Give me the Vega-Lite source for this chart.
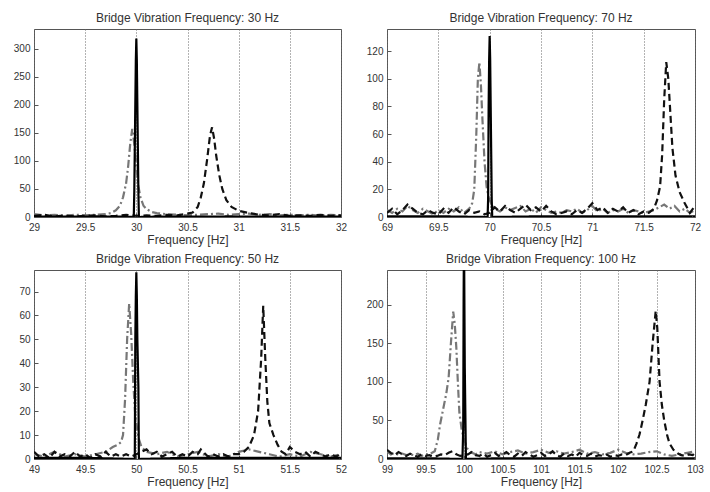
{
  "$schema": "https://vega.github.io/schema/vega-lite/v6.json",
  "background": "white",
  "padding": {"left": 12, "top": 11, "right": 5, "bottom": 5},
  "bounds": "flush",
  "columns": 2,
  "spacing": {"row": 53, "column": 46},
  "data": {"values": [
    {"p":"A","s":"G","x":29.0,"y":5},{"p":"A","s":"G","x":29.1,"y":3},{"p":"A","s":"G","x":29.2,"y":4},{"p":"A","s":"G","x":29.3,"y":2},{"p":"A","s":"G","x":29.4,"y":4},{"p":"A","s":"G","x":29.5,"y":3},{"p":"A","s":"G","x":29.6,"y":4},{"p":"A","s":"G","x":29.7,"y":5},{"p":"A","s":"G","x":29.75,"y":7},{"p":"A","s":"G","x":29.8,"y":12},{"p":"A","s":"G","x":29.84,"y":20},{"p":"A","s":"G","x":29.87,"y":35},{"p":"A","s":"G","x":29.9,"y":60},{"p":"A","s":"G","x":29.92,"y":90},{"p":"A","s":"G","x":29.94,"y":130},{"p":"A","s":"G","x":29.96,"y":157},{"p":"A","s":"G","x":29.98,"y":130},{"p":"A","s":"G","x":30.0,"y":90},{"p":"A","s":"G","x":30.02,"y":55},{"p":"A","s":"G","x":30.04,"y":35},{"p":"A","s":"G","x":30.07,"y":20},{"p":"A","s":"G","x":30.1,"y":14},{"p":"A","s":"G","x":30.15,"y":9},{"p":"A","s":"G","x":30.2,"y":7},{"p":"A","s":"G","x":30.3,"y":5},{"p":"A","s":"G","x":30.4,"y":4},{"p":"A","s":"G","x":30.5,"y":3},{"p":"A","s":"G","x":30.6,"y":4},{"p":"A","s":"G","x":30.7,"y":5},{"p":"A","s":"G","x":30.8,"y":6},{"p":"A","s":"G","x":30.9,"y":4},{"p":"A","s":"G","x":31.0,"y":5},{"p":"A","s":"G","x":31.1,"y":6},{"p":"A","s":"G","x":31.2,"y":4},{"p":"A","s":"G","x":31.3,"y":5},{"p":"A","s":"G","x":31.4,"y":3},{"p":"A","s":"G","x":31.5,"y":4},{"p":"A","s":"G","x":31.6,"y":3},{"p":"A","s":"G","x":31.7,"y":4},{"p":"A","s":"G","x":31.8,"y":2},{"p":"A","s":"G","x":31.9,"y":4},{"p":"A","s":"G","x":32.0,"y":3},
    {"p":"A","s":"D","x":29.0,"y":2},{"p":"A","s":"D","x":29.1,"y":4},{"p":"A","s":"D","x":29.2,"y":1},{"p":"A","s":"D","x":29.3,"y":3},{"p":"A","s":"D","x":29.4,"y":1},{"p":"A","s":"D","x":29.5,"y":2},{"p":"A","s":"D","x":29.6,"y":3},{"p":"A","s":"D","x":29.7,"y":1},{"p":"A","s":"D","x":29.8,"y":2},{"p":"A","s":"D","x":29.9,"y":4},{"p":"A","s":"D","x":30.0,"y":2},{"p":"A","s":"D","x":30.1,"y":3},{"p":"A","s":"D","x":30.2,"y":2},{"p":"A","s":"D","x":30.3,"y":4},{"p":"A","s":"D","x":30.4,"y":3},{"p":"A","s":"D","x":30.5,"y":6},{"p":"A","s":"D","x":30.55,"y":8},{"p":"A","s":"D","x":30.6,"y":18},{"p":"A","s":"D","x":30.63,"y":35},{"p":"A","s":"D","x":30.66,"y":60},{"p":"A","s":"D","x":30.69,"y":100},{"p":"A","s":"D","x":30.72,"y":145},{"p":"A","s":"D","x":30.74,"y":160},{"p":"A","s":"D","x":30.76,"y":140},{"p":"A","s":"D","x":30.78,"y":110},{"p":"A","s":"D","x":30.81,"y":75},{"p":"A","s":"D","x":30.84,"y":50},{"p":"A","s":"D","x":30.88,"y":30},{"p":"A","s":"D","x":30.93,"y":18},{"p":"A","s":"D","x":31.0,"y":11},{"p":"A","s":"D","x":31.1,"y":7},{"p":"A","s":"D","x":31.2,"y":4},{"p":"A","s":"D","x":31.3,"y":3},{"p":"A","s":"D","x":31.4,"y":5},{"p":"A","s":"D","x":31.5,"y":2},{"p":"A","s":"D","x":31.6,"y":3},{"p":"A","s":"D","x":31.7,"y":2},{"p":"A","s":"D","x":31.8,"y":4},{"p":"A","s":"D","x":31.9,"y":2},{"p":"A","s":"D","x":32.0,"y":3},
    {"p":"A","s":"S","x":29.0,"y":1},{"p":"A","s":"S","x":29.3,"y":0.5},{"p":"A","s":"S","x":29.6,"y":1},{"p":"A","s":"S","x":29.9,"y":0.5},{"p":"A","s":"S","x":29.975,"y":0},{"p":"A","s":"S","x":29.98,"y":45},{"p":"A","s":"S","x":29.99,"y":200},{"p":"A","s":"S","x":29.995,"y":278},{"p":"A","s":"S","x":30.0,"y":318},{"p":"A","s":"S","x":30.005,"y":278},{"p":"A","s":"S","x":30.01,"y":200},{"p":"A","s":"S","x":30.02,"y":45},{"p":"A","s":"S","x":30.025,"y":0},{"p":"A","s":"S","x":30.3,"y":1},{"p":"A","s":"S","x":30.6,"y":0.5},{"p":"A","s":"S","x":30.9,"y":1},{"p":"A","s":"S","x":31.2,"y":0.5},{"p":"A","s":"S","x":31.5,"y":1},{"p":"A","s":"S","x":31.8,"y":0.5},{"p":"A","s":"S","x":32.0,"y":1},

    {"p":"B","s":"G","x":69.0,"y":5},{"p":"B","s":"G","x":69.05,"y":3},{"p":"B","s":"G","x":69.1,"y":6},{"p":"B","s":"G","x":69.15,"y":4},{"p":"B","s":"G","x":69.2,"y":8},{"p":"B","s":"G","x":69.25,"y":5},{"p":"B","s":"G","x":69.3,"y":3},{"p":"B","s":"G","x":69.35,"y":6},{"p":"B","s":"G","x":69.4,"y":4},{"p":"B","s":"G","x":69.45,"y":2},{"p":"B","s":"G","x":69.5,"y":5},{"p":"B","s":"G","x":69.55,"y":3},{"p":"B","s":"G","x":69.6,"y":6},{"p":"B","s":"G","x":69.65,"y":4},{"p":"B","s":"G","x":69.7,"y":7},{"p":"B","s":"G","x":69.75,"y":3},{"p":"B","s":"G","x":69.8,"y":6},{"p":"B","s":"G","x":69.83,"y":10},{"p":"B","s":"G","x":69.85,"y":20},{"p":"B","s":"G","x":69.87,"y":60},{"p":"B","s":"G","x":69.885,"y":100},{"p":"B","s":"G","x":69.9,"y":112},{"p":"B","s":"G","x":69.915,"y":95},{"p":"B","s":"G","x":69.93,"y":70},{"p":"B","s":"G","x":69.95,"y":40},{"p":"B","s":"G","x":69.97,"y":22},{"p":"B","s":"G","x":69.99,"y":14},{"p":"B","s":"G","x":70.02,"y":9},{"p":"B","s":"G","x":70.05,"y":6},{"p":"B","s":"G","x":70.1,"y":4},{"p":"B","s":"G","x":70.15,"y":7},{"p":"B","s":"G","x":70.2,"y":5},{"p":"B","s":"G","x":70.3,"y":8},{"p":"B","s":"G","x":70.35,"y":4},{"p":"B","s":"G","x":70.4,"y":6},{"p":"B","s":"G","x":70.45,"y":3},{"p":"B","s":"G","x":70.5,"y":7},{"p":"B","s":"G","x":70.55,"y":5},{"p":"B","s":"G","x":70.6,"y":3},{"p":"B","s":"G","x":70.65,"y":4},{"p":"B","s":"G","x":70.7,"y":3},{"p":"B","s":"G","x":70.75,"y":5},{"p":"B","s":"G","x":70.8,"y":4},{"p":"B","s":"G","x":70.85,"y":6},{"p":"B","s":"G","x":70.9,"y":3},{"p":"B","s":"G","x":70.95,"y":5},{"p":"B","s":"G","x":71.0,"y":8},{"p":"B","s":"G","x":71.05,"y":4},{"p":"B","s":"G","x":71.1,"y":6},{"p":"B","s":"G","x":71.15,"y":3},{"p":"B","s":"G","x":71.2,"y":5},{"p":"B","s":"G","x":71.25,"y":4},{"p":"B","s":"G","x":71.3,"y":6},{"p":"B","s":"G","x":71.35,"y":3},{"p":"B","s":"G","x":71.4,"y":5},{"p":"B","s":"G","x":71.45,"y":4},{"p":"B","s":"G","x":71.5,"y":3},{"p":"B","s":"G","x":71.55,"y":4},{"p":"B","s":"G","x":71.6,"y":5},{"p":"B","s":"G","x":71.65,"y":7},{"p":"B","s":"G","x":71.7,"y":9},{"p":"B","s":"G","x":71.75,"y":6},{"p":"B","s":"G","x":71.8,"y":8},{"p":"B","s":"G","x":71.85,"y":4},{"p":"B","s":"G","x":71.9,"y":6},{"p":"B","s":"G","x":71.95,"y":3},{"p":"B","s":"G","x":72.0,"y":5},
    {"p":"B","s":"D","x":69.0,"y":3},{"p":"B","s":"D","x":69.05,"y":6},{"p":"B","s":"D","x":69.1,"y":2},{"p":"B","s":"D","x":69.15,"y":5},{"p":"B","s":"D","x":69.2,"y":9},{"p":"B","s":"D","x":69.25,"y":6},{"p":"B","s":"D","x":69.3,"y":3},{"p":"B","s":"D","x":69.35,"y":2},{"p":"B","s":"D","x":69.4,"y":5},{"p":"B","s":"D","x":69.45,"y":3},{"p":"B","s":"D","x":69.5,"y":2},{"p":"B","s":"D","x":69.55,"y":6},{"p":"B","s":"D","x":69.6,"y":3},{"p":"B","s":"D","x":69.65,"y":7},{"p":"B","s":"D","x":69.7,"y":4},{"p":"B","s":"D","x":69.75,"y":2},{"p":"B","s":"D","x":69.8,"y":5},{"p":"B","s":"D","x":69.85,"y":3},{"p":"B","s":"D","x":69.9,"y":4},{"p":"B","s":"D","x":69.95,"y":2},{"p":"B","s":"D","x":70.0,"y":3},{"p":"B","s":"D","x":70.05,"y":7},{"p":"B","s":"D","x":70.1,"y":4},{"p":"B","s":"D","x":70.15,"y":8},{"p":"B","s":"D","x":70.2,"y":5},{"p":"B","s":"D","x":70.25,"y":3},{"p":"B","s":"D","x":70.3,"y":6},{"p":"B","s":"D","x":70.35,"y":9},{"p":"B","s":"D","x":70.4,"y":5},{"p":"B","s":"D","x":70.45,"y":7},{"p":"B","s":"D","x":70.5,"y":4},{"p":"B","s":"D","x":70.55,"y":8},{"p":"B","s":"D","x":70.6,"y":4},{"p":"B","s":"D","x":70.65,"y":2},{"p":"B","s":"D","x":70.7,"y":3},{"p":"B","s":"D","x":70.75,"y":4},{"p":"B","s":"D","x":70.8,"y":2},{"p":"B","s":"D","x":70.85,"y":5},{"p":"B","s":"D","x":70.9,"y":3},{"p":"B","s":"D","x":70.95,"y":6},{"p":"B","s":"D","x":71.0,"y":10},{"p":"B","s":"D","x":71.05,"y":5},{"p":"B","s":"D","x":71.1,"y":7},{"p":"B","s":"D","x":71.15,"y":3},{"p":"B","s":"D","x":71.2,"y":6},{"p":"B","s":"D","x":71.25,"y":4},{"p":"B","s":"D","x":71.3,"y":7},{"p":"B","s":"D","x":71.35,"y":3},{"p":"B","s":"D","x":71.4,"y":5},{"p":"B","s":"D","x":71.45,"y":2},{"p":"B","s":"D","x":71.5,"y":4},{"p":"B","s":"D","x":71.55,"y":3},{"p":"B","s":"D","x":71.6,"y":6},{"p":"B","s":"D","x":71.63,"y":12},{"p":"B","s":"D","x":71.66,"y":22},{"p":"B","s":"D","x":71.68,"y":45},{"p":"B","s":"D","x":71.7,"y":85},{"p":"B","s":"D","x":71.72,"y":112},{"p":"B","s":"D","x":71.74,"y":100},{"p":"B","s":"D","x":71.76,"y":75},{"p":"B","s":"D","x":71.78,"y":50},{"p":"B","s":"D","x":71.81,"y":30},{"p":"B","s":"D","x":71.85,"y":18},{"p":"B","s":"D","x":71.9,"y":10},{"p":"B","s":"D","x":71.95,"y":3},{"p":"B","s":"D","x":72.0,"y":8},
    {"p":"B","s":"S","x":69.0,"y":0.5},{"p":"B","s":"S","x":69.5,"y":0.5},{"p":"B","s":"S","x":69.98,"y":0},{"p":"B","s":"S","x":69.985,"y":13},{"p":"B","s":"S","x":69.99,"y":80},{"p":"B","s":"S","x":69.995,"y":114},{"p":"B","s":"S","x":70.0,"y":131},{"p":"B","s":"S","x":70.005,"y":114},{"p":"B","s":"S","x":70.01,"y":80},{"p":"B","s":"S","x":70.02,"y":13},{"p":"B","s":"S","x":70.025,"y":0},{"p":"B","s":"S","x":70.5,"y":0.5},{"p":"B","s":"S","x":71.0,"y":0.5},{"p":"B","s":"S","x":71.5,"y":0.5},{"p":"B","s":"S","x":72.0,"y":0.5},

    {"p":"C","s":"G","x":49.0,"y":2},{"p":"C","s":"G","x":49.1,"y":1},{"p":"C","s":"G","x":49.2,"y":3},{"p":"C","s":"G","x":49.3,"y":1},{"p":"C","s":"G","x":49.4,"y":2},{"p":"C","s":"G","x":49.5,"y":1},{"p":"C","s":"G","x":49.6,"y":2},{"p":"C","s":"G","x":49.7,"y":3},{"p":"C","s":"G","x":49.77,"y":5},{"p":"C","s":"G","x":49.82,"y":6},{"p":"C","s":"G","x":49.85,"y":7},{"p":"C","s":"G","x":49.87,"y":10},{"p":"C","s":"G","x":49.89,"y":25},{"p":"C","s":"G","x":49.91,"y":50},{"p":"C","s":"G","x":49.93,"y":65},{"p":"C","s":"G","x":49.95,"y":52},{"p":"C","s":"G","x":49.97,"y":32},{"p":"C","s":"G","x":49.99,"y":18},{"p":"C","s":"G","x":50.02,"y":9},{"p":"C","s":"G","x":50.05,"y":5},{"p":"C","s":"G","x":50.1,"y":3},{"p":"C","s":"G","x":50.2,"y":2},{"p":"C","s":"G","x":50.3,"y":3},{"p":"C","s":"G","x":50.4,"y":1},{"p":"C","s":"G","x":50.5,"y":2},{"p":"C","s":"G","x":50.6,"y":3},{"p":"C","s":"G","x":50.7,"y":1},{"p":"C","s":"G","x":50.8,"y":2},{"p":"C","s":"G","x":50.9,"y":1},{"p":"C","s":"G","x":51.0,"y":3},{"p":"C","s":"G","x":51.1,"y":4},{"p":"C","s":"G","x":51.2,"y":3},{"p":"C","s":"G","x":51.3,"y":2},{"p":"C","s":"G","x":51.4,"y":1},{"p":"C","s":"G","x":51.5,"y":2},{"p":"C","s":"G","x":51.6,"y":1},{"p":"C","s":"G","x":51.7,"y":3},{"p":"C","s":"G","x":51.8,"y":2},{"p":"C","s":"G","x":51.9,"y":1},{"p":"C","s":"G","x":52.0,"y":2},
    {"p":"C","s":"D","x":49.0,"y":3},{"p":"C","s":"D","x":49.05,"y":1},{"p":"C","s":"D","x":49.1,"y":2},{"p":"C","s":"D","x":49.15,"y":0.5},{"p":"C","s":"D","x":49.2,"y":3},{"p":"C","s":"D","x":49.25,"y":1},{"p":"C","s":"D","x":49.3,"y":2},{"p":"C","s":"D","x":49.35,"y":1},{"p":"C","s":"D","x":49.4,"y":3},{"p":"C","s":"D","x":49.45,"y":1},{"p":"C","s":"D","x":49.5,"y":2},{"p":"C","s":"D","x":49.55,"y":0.5},{"p":"C","s":"D","x":49.6,"y":2},{"p":"C","s":"D","x":49.65,"y":1},{"p":"C","s":"D","x":49.7,"y":3},{"p":"C","s":"D","x":49.75,"y":1},{"p":"C","s":"D","x":49.8,"y":2},{"p":"C","s":"D","x":49.85,"y":1},{"p":"C","s":"D","x":49.9,"y":2},{"p":"C","s":"D","x":49.95,"y":1},{"p":"C","s":"D","x":50.0,"y":2},{"p":"C","s":"D","x":50.05,"y":3},{"p":"C","s":"D","x":50.1,"y":4},{"p":"C","s":"D","x":50.15,"y":2},{"p":"C","s":"D","x":50.2,"y":3},{"p":"C","s":"D","x":50.25,"y":1},{"p":"C","s":"D","x":50.3,"y":2},{"p":"C","s":"D","x":50.35,"y":3},{"p":"C","s":"D","x":50.4,"y":1},{"p":"C","s":"D","x":50.45,"y":2},{"p":"C","s":"D","x":50.5,"y":1},{"p":"C","s":"D","x":50.55,"y":3},{"p":"C","s":"D","x":50.6,"y":2},{"p":"C","s":"D","x":50.63,"y":4},{"p":"C","s":"D","x":50.7,"y":1},{"p":"C","s":"D","x":50.75,"y":2},{"p":"C","s":"D","x":50.8,"y":1},{"p":"C","s":"D","x":50.85,"y":2},{"p":"C","s":"D","x":50.9,"y":1},{"p":"C","s":"D","x":50.95,"y":2},{"p":"C","s":"D","x":51.0,"y":2},{"p":"C","s":"D","x":51.05,"y":3},{"p":"C","s":"D","x":51.1,"y":5},{"p":"C","s":"D","x":51.15,"y":10},{"p":"C","s":"D","x":51.19,"y":20},{"p":"C","s":"D","x":51.22,"y":42},{"p":"C","s":"D","x":51.24,"y":64},{"p":"C","s":"D","x":51.26,"y":42},{"p":"C","s":"D","x":51.28,"y":24},{"p":"C","s":"D","x":51.3,"y":15},{"p":"C","s":"D","x":51.34,"y":10},{"p":"C","s":"D","x":51.38,"y":6},{"p":"C","s":"D","x":51.42,"y":3},{"p":"C","s":"D","x":51.46,"y":2},{"p":"C","s":"D","x":51.5,"y":5},{"p":"C","s":"D","x":51.55,"y":3},{"p":"C","s":"D","x":51.6,"y":2},{"p":"C","s":"D","x":51.65,"y":3},{"p":"C","s":"D","x":51.7,"y":1},{"p":"C","s":"D","x":51.75,"y":3},{"p":"C","s":"D","x":51.8,"y":2},{"p":"C","s":"D","x":51.85,"y":1},{"p":"C","s":"D","x":51.9,"y":2},{"p":"C","s":"D","x":51.95,"y":1},{"p":"C","s":"D","x":52.0,"y":2},
    {"p":"C","s":"S","x":49.0,"y":0.5},{"p":"C","s":"S","x":49.5,"y":0.5},{"p":"C","s":"S","x":49.985,"y":0},{"p":"C","s":"S","x":49.99,"y":50},{"p":"C","s":"S","x":49.995,"y":68},{"p":"C","s":"S","x":50.0,"y":78},{"p":"C","s":"S","x":50.005,"y":68},{"p":"C","s":"S","x":50.01,"y":50},{"p":"C","s":"S","x":50.02,"y":30},{"p":"C","s":"S","x":50.025,"y":0},{"p":"C","s":"S","x":50.5,"y":0.5},{"p":"C","s":"S","x":51.0,"y":0.5},{"p":"C","s":"S","x":51.5,"y":0.5},{"p":"C","s":"S","x":52.0,"y":0.5},

    {"p":"D","s":"G","x":99.0,"y":10},{"p":"D","s":"G","x":99.05,"y":6},{"p":"D","s":"G","x":99.1,"y":8},{"p":"D","s":"G","x":99.15,"y":5},{"p":"D","s":"G","x":99.2,"y":7},{"p":"D","s":"G","x":99.25,"y":5},{"p":"D","s":"G","x":99.3,"y":6},{"p":"D","s":"G","x":99.35,"y":5},{"p":"D","s":"G","x":99.4,"y":7},{"p":"D","s":"G","x":99.45,"y":4},{"p":"D","s":"G","x":99.5,"y":6},{"p":"D","s":"G","x":99.55,"y":6},{"p":"D","s":"G","x":99.62,"y":10},{"p":"D","s":"G","x":99.66,"y":25},{"p":"D","s":"G","x":99.69,"y":45},{"p":"D","s":"G","x":99.73,"y":65},{"p":"D","s":"G","x":99.77,"y":85},{"p":"D","s":"G","x":99.8,"y":105},{"p":"D","s":"G","x":99.83,"y":150},{"p":"D","s":"G","x":99.86,"y":191},{"p":"D","s":"G","x":99.88,"y":175},{"p":"D","s":"G","x":99.9,"y":145},{"p":"D","s":"G","x":99.92,"y":100},{"p":"D","s":"G","x":99.94,"y":60},{"p":"D","s":"G","x":99.97,"y":38},{"p":"D","s":"G","x":100.0,"y":25},{"p":"D","s":"G","x":100.04,"y":14},{"p":"D","s":"G","x":100.08,"y":9},{"p":"D","s":"G","x":100.15,"y":6},{"p":"D","s":"G","x":100.2,"y":9},{"p":"D","s":"G","x":100.3,"y":7},{"p":"D","s":"G","x":100.4,"y":10},{"p":"D","s":"G","x":100.5,"y":6},{"p":"D","s":"G","x":100.6,"y":9},{"p":"D","s":"G","x":100.7,"y":11},{"p":"D","s":"G","x":100.8,"y":7},{"p":"D","s":"G","x":100.9,"y":9},{"p":"D","s":"G","x":101.0,"y":12},{"p":"D","s":"G","x":101.1,"y":8},{"p":"D","s":"G","x":101.2,"y":10},{"p":"D","s":"G","x":101.3,"y":7},{"p":"D","s":"G","x":101.4,"y":9},{"p":"D","s":"G","x":101.5,"y":12},{"p":"D","s":"G","x":101.6,"y":7},{"p":"D","s":"G","x":101.7,"y":9},{"p":"D","s":"G","x":101.8,"y":6},{"p":"D","s":"G","x":101.9,"y":8},{"p":"D","s":"G","x":102.0,"y":12},{"p":"D","s":"G","x":102.1,"y":8},{"p":"D","s":"G","x":102.2,"y":6},{"p":"D","s":"G","x":102.3,"y":7},{"p":"D","s":"G","x":102.4,"y":9},{"p":"D","s":"G","x":102.5,"y":10},{"p":"D","s":"G","x":102.6,"y":6},{"p":"D","s":"G","x":102.7,"y":4},{"p":"D","s":"G","x":102.8,"y":6},{"p":"D","s":"G","x":102.9,"y":8},{"p":"D","s":"G","x":103.0,"y":10},
    {"p":"D","s":"D","x":99.0,"y":12},{"p":"D","s":"D","x":99.05,"y":8},{"p":"D","s":"D","x":99.1,"y":5},{"p":"D","s":"D","x":99.15,"y":9},{"p":"D","s":"D","x":99.2,"y":6},{"p":"D","s":"D","x":99.25,"y":4},{"p":"D","s":"D","x":99.3,"y":7},{"p":"D","s":"D","x":99.35,"y":5},{"p":"D","s":"D","x":99.4,"y":3},{"p":"D","s":"D","x":99.45,"y":6},{"p":"D","s":"D","x":99.5,"y":4},{"p":"D","s":"D","x":99.55,"y":5},{"p":"D","s":"D","x":99.6,"y":3},{"p":"D","s":"D","x":99.65,"y":4},{"p":"D","s":"D","x":99.7,"y":6},{"p":"D","s":"D","x":99.75,"y":5},{"p":"D","s":"D","x":99.8,"y":8},{"p":"D","s":"D","x":99.85,"y":10},{"p":"D","s":"D","x":99.9,"y":6},{"p":"D","s":"D","x":99.95,"y":4},{"p":"D","s":"D","x":100.0,"y":5},{"p":"D","s":"D","x":100.05,"y":6},{"p":"D","s":"D","x":100.1,"y":9},{"p":"D","s":"D","x":100.15,"y":5},{"p":"D","s":"D","x":100.2,"y":4},{"p":"D","s":"D","x":100.25,"y":7},{"p":"D","s":"D","x":100.3,"y":3},{"p":"D","s":"D","x":100.35,"y":5},{"p":"D","s":"D","x":100.4,"y":8},{"p":"D","s":"D","x":100.45,"y":4},{"p":"D","s":"D","x":100.5,"y":6},{"p":"D","s":"D","x":100.55,"y":9},{"p":"D","s":"D","x":100.6,"y":5},{"p":"D","s":"D","x":100.65,"y":3},{"p":"D","s":"D","x":100.7,"y":7},{"p":"D","s":"D","x":100.75,"y":4},{"p":"D","s":"D","x":100.8,"y":9},{"p":"D","s":"D","x":100.85,"y":6},{"p":"D","s":"D","x":100.9,"y":3},{"p":"D","s":"D","x":100.95,"y":5},{"p":"D","s":"D","x":101.0,"y":8},{"p":"D","s":"D","x":101.05,"y":4},{"p":"D","s":"D","x":101.1,"y":6},{"p":"D","s":"D","x":101.15,"y":10},{"p":"D","s":"D","x":101.2,"y":5},{"p":"D","s":"D","x":101.25,"y":3},{"p":"D","s":"D","x":101.3,"y":7},{"p":"D","s":"D","x":101.35,"y":4},{"p":"D","s":"D","x":101.4,"y":6},{"p":"D","s":"D","x":101.45,"y":3},{"p":"D","s":"D","x":101.5,"y":8},{"p":"D","s":"D","x":101.55,"y":5},{"p":"D","s":"D","x":101.6,"y":4},{"p":"D","s":"D","x":101.65,"y":7},{"p":"D","s":"D","x":101.7,"y":3},{"p":"D","s":"D","x":101.75,"y":5},{"p":"D","s":"D","x":101.8,"y":4},{"p":"D","s":"D","x":101.85,"y":6},{"p":"D","s":"D","x":101.9,"y":3},{"p":"D","s":"D","x":101.95,"y":5},{"p":"D","s":"D","x":102.0,"y":4},{"p":"D","s":"D","x":102.05,"y":6},{"p":"D","s":"D","x":102.1,"y":5},{"p":"D","s":"D","x":102.15,"y":8},{"p":"D","s":"D","x":102.2,"y":10},{"p":"D","s":"D","x":102.24,"y":20},{"p":"D","s":"D","x":102.28,"y":32},{"p":"D","s":"D","x":102.32,"y":50},{"p":"D","s":"D","x":102.36,"y":70},{"p":"D","s":"D","x":102.41,"y":100},{"p":"D","s":"D","x":102.45,"y":150},{"p":"D","s":"D","x":102.49,"y":192},{"p":"D","s":"D","x":102.51,"y":170},{"p":"D","s":"D","x":102.54,"y":100},{"p":"D","s":"D","x":102.57,"y":70},{"p":"D","s":"D","x":102.6,"y":50},{"p":"D","s":"D","x":102.64,"y":30},{"p":"D","s":"D","x":102.67,"y":20},{"p":"D","s":"D","x":102.72,"y":12},{"p":"D","s":"D","x":102.78,"y":7},{"p":"D","s":"D","x":102.82,"y":5},{"p":"D","s":"D","x":102.87,"y":4},{"p":"D","s":"D","x":102.92,"y":6},{"p":"D","s":"D","x":102.97,"y":5},{"p":"D","s":"D","x":103.0,"y":8},
    {"p":"D","s":"S","x":99.0,"y":1},{"p":"D","s":"S","x":99.5,"y":1},{"p":"D","s":"S","x":99.98,"y":0},{"p":"D","s":"S","x":99.99,"y":40},{"p":"D","s":"S","x":99.995,"y":205},{"p":"D","s":"S","x":100.0,"y":300},{"p":"D","s":"S","x":100.005,"y":205},{"p":"D","s":"S","x":100.01,"y":120},{"p":"D","s":"S","x":100.02,"y":40},{"p":"D","s":"S","x":100.025,"y":0},{"p":"D","s":"S","x":100.5,"y":1},{"p":"D","s":"S","x":101.0,"y":1},{"p":"D","s":"S","x":101.5,"y":1},{"p":"D","s":"S","x":102.0,"y":1},{"p":"D","s":"S","x":102.5,"y":1},{"p":"D","s":"S","x":103.0,"y":1}
  ]},
  "concat": [
    {
      "title": "Bridge Vibration Frequency: 30 Hz",
      "width": 307, "height": 188,
      "transform": [{"filter": "datum.p == 'A'"}],
      "mark": {"type": "line", "clip": true, "strokeWidth": 2.2},
      "encoding": {
        "x": {"field": "x", "type": "quantitative", "scale": {"domain": [29, 32], "nice": false, "zero": false}, "axis": {"values": [29, 29.5, 30, 30.5, 31, 31.5, 32], "format": "~g", "title": "Frequency [Hz]"}},
        "y": {"field": "y", "type": "quantitative", "scale": {"domain": [0, 335], "nice": false}, "axis": {"values": [0, 50, 100, 150, 200, 250, 300], "title": null}},
        "color": {"field": "s", "type": "nominal", "scale": {"domain": ["G", "D", "S"], "range": ["#777777", "#111111", "#000000"]}, "legend": null},
        "strokeDash": {"field": "s", "type": "nominal", "scale": {"domain": ["G", "D", "S"], "range": [[8, 3, 2, 3], [7, 4], [1, 0]]}, "legend": null}
      }
    },
    {
      "title": "Bridge Vibration Frequency: 70 Hz",
      "width": 308, "height": 188,
      "transform": [{"filter": "datum.p == 'B'"}],
      "mark": {"type": "line", "clip": true, "strokeWidth": 2.2},
      "encoding": {
        "x": {"field": "x", "type": "quantitative", "scale": {"domain": [69, 72], "nice": false, "zero": false}, "axis": {"values": [69, 69.5, 70, 70.5, 71, 71.5, 72], "format": "~g", "title": "Frequency [Hz]"}},
        "y": {"field": "y", "type": "quantitative", "scale": {"domain": [0, 136], "nice": false}, "axis": {"values": [0, 20, 40, 60, 80, 100, 120], "title": null}},
        "color": {"field": "s", "type": "nominal", "scale": {"domain": ["G", "D", "S"], "range": ["#777777", "#111111", "#000000"]}, "legend": null},
        "strokeDash": {"field": "s", "type": "nominal", "scale": {"domain": ["G", "D", "S"], "range": [[8, 3, 2, 3], [7, 4], [1, 0]]}, "legend": null}
      }
    },
    {
      "title": "Bridge Vibration Frequency: 50 Hz",
      "width": 307, "height": 189,
      "transform": [{"filter": "datum.p == 'C'"}],
      "mark": {"type": "line", "clip": true, "strokeWidth": 2.2},
      "encoding": {
        "x": {"field": "x", "type": "quantitative", "scale": {"domain": [49, 52], "nice": false, "zero": false}, "axis": {"values": [49, 49.5, 50, 50.5, 51, 51.5, 52], "format": "~g", "title": "Frequency [Hz]"}},
        "y": {"field": "y", "type": "quantitative", "scale": {"domain": [0, 79], "nice": false}, "axis": {"values": [0, 10, 20, 30, 40, 50, 60, 70], "title": null}},
        "color": {"field": "s", "type": "nominal", "scale": {"domain": ["G", "D", "S"], "range": ["#777777", "#111111", "#000000"]}, "legend": null},
        "strokeDash": {"field": "s", "type": "nominal", "scale": {"domain": ["G", "D", "S"], "range": [[8, 3, 2, 3], [7, 4], [1, 0]]}, "legend": null}
      }
    },
    {
      "title": "Bridge Vibration Frequency: 100 Hz",
      "width": 308, "height": 189,
      "transform": [{"filter": "datum.p == 'D'"}],
      "mark": {"type": "line", "clip": true, "strokeWidth": 2.2},
      "encoding": {
        "x": {"field": "x", "type": "quantitative", "scale": {"domain": [99, 103], "nice": false, "zero": false}, "axis": {"values": [99, 99.5, 100, 100.5, 101, 101.5, 102, 102.5, 103], "format": "~g", "title": "Frequency [Hz]"}},
        "y": {"field": "y", "type": "quantitative", "scale": {"domain": [0, 245], "nice": false}, "axis": {"values": [0, 50, 100, 150, 200], "title": null}},
        "color": {"field": "s", "type": "nominal", "scale": {"domain": ["G", "D", "S"], "range": ["#777777", "#111111", "#000000"]}, "legend": null},
        "strokeDash": {"field": "s", "type": "nominal", "scale": {"domain": ["G", "D", "S"], "range": [[8, 3, 2, 3], [7, 4], [1, 0]]}, "legend": null}
      }
    }
  ],
  "resolve": {"scale": {"x": "independent", "y": "independent", "color": "shared", "strokeDash": "shared"}},
  "config": {
    "view": {"stroke": "#555555", "strokeWidth": 1},
    "axis": {"labelFont": "Liberation Sans", "labelFontSize": 10, "labelColor": "#333333", "titleFont": "Liberation Sans", "titleFontSize": 12, "titleFontWeight": "normal", "titleColor": "#333333", "domain": false, "tickColor": "#555555", "tickSize": -4, "ticks": true},
    "axisX": {"grid": true, "gridDash": [1, 2], "gridColor": "#666666", "gridOpacity": 1, "gridWidth": 1, "labelPadding": 9, "titlePadding": 2, "labelFlush": false},
    "axisY": {"grid": false, "labelPadding": 8},
    "title": {"font": "Liberation Sans", "fontSize": 12, "fontWeight": "normal", "color": "#333333", "offset": 4}
  }
}
